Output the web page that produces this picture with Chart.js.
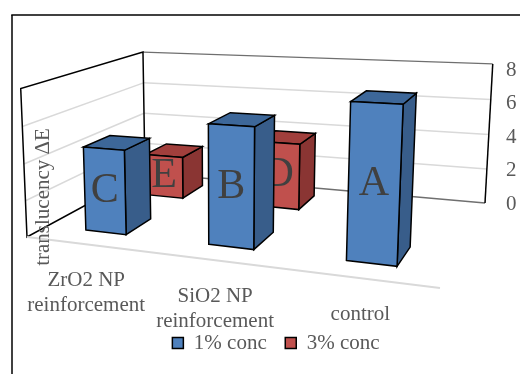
<!DOCTYPE html>
<html>
<head>
<meta charset="utf-8">
<script src="https://cdn.jsdelivr.net/npm/chart.js@4.4.1/dist/chart.umd.min.js"></script>
<style>
  body { margin: 0; background: #fff; }
  #wrap { width: 520px; height: 374px; }
</style>
</head>
<body>
<div id="wrap"><canvas id="translucencyChart" width="520" height="374"></canvas></div>
<script>
// data
const categories = [["ZrO2 NP", "reinforcement"], ["SiO2 NP", "reinforcement"], "control"];
const conc1 = [4.6, 6.3, 7.8];
const conc3 = [2.5, 3.8, null];
const letters1 = ["C", "B", "A"];
const letters3 = ["E", "D", ""];
const seriesNames = ["1% conc", "3% conc"];
const yTitle = "translucency \u0394E";

const SERIF = "'Liberation Serif', 'Times New Roman', serif";
const GRAY_TEXT = "#595959";

// 3d frame: floor corners (value 0) and three wall corners at the axis max
const FLOOR = { fl: [27, 237], fr: [440, 288], br: [485, 203], bl: [145, 173] };
const TOPS = [[0, 0, 19, 88], [0, 1, 145, 49], [1, 1, 492, 68]];
// depth range of each series row (0 = front edge, 1 = back wall)
const ROW_DEPTH = [[0.15, 0.36], [0.67, 0.88]];
const FACES = [
  { front: "#4F81BD", side: "#385D8A", top: "#3D6799" },
  { front: "#C0504D", side: "#8A3533", top: "#A13F3C" }
];

function squareToQuad(p0, p1, p2, p3) {
  const dx1 = p1[0] - p2[0], dx2 = p3[0] - p2[0], dx3 = p0[0] - p1[0] + p2[0] - p3[0];
  const dy1 = p1[1] - p2[1], dy2 = p3[1] - p2[1], dy3 = p0[1] - p1[1] + p2[1] - p3[1];
  const den = dx1 * dy2 - dx2 * dy1;
  const g = (dx3 * dy2 - dx2 * dy3) / den;
  const h = (dx1 * dy3 - dx3 * dy1) / den;
  return {
    a: p1[0] - p0[0] + g * p1[0], b: p3[0] - p0[0] + h * p3[0], c: p0[0],
    d: p1[1] - p0[1] + g * p1[1], e: p3[1] - p0[1] + h * p3[1], f: p0[1], g, h
  };
}

function det3(m) {
  return m[0][0] * (m[1][1] * m[2][2] - m[1][2] * m[2][1])
    - m[0][1] * (m[1][0] * m[2][2] - m[1][2] * m[2][0])
    + m[0][2] * (m[1][0] * m[2][1] - m[1][1] * m[2][0]);
}

const H = squareToQuad(FLOOR.fl, FLOOR.fr, FLOOR.br, FLOOR.bl);

// vertical column of the projection, least squares over the wall top corners
const vert = (() => {
  const rows = [], rhs = [];
  TOPS.forEach(([t, z, X, Y]) => {
    const nx = H.a * t + H.b * z + H.c, ny = H.d * t + H.e * z + H.f, w = H.g * t + H.h * z + 1;
    rows.push([1, 0, -X]); rhs.push(X * w - nx);
    rows.push([0, 1, -Y]); rhs.push(Y * w - ny);
  });
  const M = [0, 1, 2].map(i => [0, 1, 2].map(j => rows.reduce((s, r) => s + r[i] * r[j], 0)));
  const v = [0, 1, 2].map(i => rows.reduce((s, r, k) => s + r[i] * rhs[k], 0));
  const D = det3(M);
  const [p, q, r] = [0, 1, 2].map(k => det3(M.map((row, i) => row.map((x, j) => (j === k ? v[i] : x)))) / D);
  return { p, q, r };
})();

function project(t, z, h) {
  const nx = H.a * t + H.b * z + H.c + vert.p * h;
  const ny = H.d * t + H.e * z + H.f + vert.q * h;
  const w = H.g * t + H.h * z + 1 + vert.r * h;
  return [nx / w, ny / w];
}

function line(ctx, a, b, color, width) {
  ctx.beginPath();
  ctx.moveTo(a[0], a[1]);
  ctx.lineTo(b[0], b[1]);
  ctx.strokeStyle = color;
  ctx.lineWidth = width;
  ctx.stroke();
}

function quad(ctx, pts, fill) {
  ctx.beginPath();
  ctx.moveTo(pts[0][0], pts[0][1]);
  for (let i = 1; i < pts.length; i++) ctx.lineTo(pts[i][0], pts[i][1]);
  ctx.closePath();
  ctx.fillStyle = fill;
  ctx.fill();
  ctx.strokeStyle = "#000";
  ctx.lineWidth = 1.5;
  ctx.stroke();
}

const box3d = {
  id: "box3d",
  beforeDraw(chart) {
    const ctx = chart.ctx;
    const yScale = chart.scales.y;
    ctx.save();
    ctx.fillStyle = "#fff";
    ctx.fillRect(0, 0, chart.width, chart.height);
    // outer frame
    line(ctx, [12, 374], [12, 15], "#000", 1.5);
    line(ctx, [11.25, 15], [520, 15], "#000", 1.5);

    // gridlines on the walls, from the y scale ticks
    yScale.ticks.forEach(tk => {
      const h = tk.value / yScale.max;
      if (h <= 0 || h >= 1) return;
      line(ctx, project(0, 0, h), project(0, 1, h), "#D9D9D9", 1.5);
      line(ctx, project(0, 1, h), project(1, 1, h), "#D9D9D9", 1.5);
    });
    // wall outlines
    line(ctx, project(0, 1, 0), project(1, 1, 0), "#6F6F6F", 1.3);
    line(ctx, project(0, 1, 1), project(1, 1, 1), "#6F6F6F", 1.3);
    line(ctx, project(1, 1, 0), project(1, 1, 1), "#000", 1.5);
    ctx.beginPath();
    [[0, 0, 0], [0, 0, 1], [0, 1, 1], [0, 1, 0]].forEach((c, i) => {
      const p = project(c[0], c[1], c[2]);
      if (i === 0) ctx.moveTo(p[0], p[1]); else ctx.lineTo(p[0], p[1]);
    });
    ctx.closePath();
    ctx.strokeStyle = "#000";
    ctx.lineWidth = 1.5;
    ctx.stroke();
    // category axis line along the front of the floor
    line(ctx, project(0, 0, 0), project(1, 0, 0), "#D9D9D9", 2);
    ctx.restore();
  },
  beforeDatasetsDraw(chart) {
    const ctx = chart.ctx;
    const area = chart.chartArea;
    const yScale = chart.scales.y;
    const zero = yScale.getPixelForValue(0);
    const span = zero - yScale.getPixelForValue(yScale.max);
    const letters = [letters1, letters3];
    ctx.save();
    // back row first, then the front row
    for (let ds = chart.data.datasets.length - 1; ds >= 0; ds--) {
      const meta = chart.getDatasetMeta(ds);
      const [z0, z1] = ROW_DEPTH[ds];
      const col = FACES[ds];
      meta.data.forEach((el, i) => {
        if (chart.data.datasets[ds].data[i] == null) return;
        const t0 = (el.x - el.width / 2 - area.left) / area.width;
        const t1 = (el.x + el.width / 2 - area.left) / area.width;
        const h = (zero - el.y) / span;
        quad(ctx, [project(t1, z0, 0), project(t1, z1, 0), project(t1, z1, h), project(t1, z0, h)], col.side);
        quad(ctx, [project(t0, z0, h), project(t1, z0, h), project(t1, z1, h), project(t0, z1, h)], col.top);
        quad(ctx, [project(t0, z0, 0), project(t1, z0, 0), project(t1, z0, h), project(t0, z0, h)], col.front);
        const c = project((t0 + t1) / 2, z0, h / 2);
        ctx.fillStyle = "#404040";
        ctx.font = "42px " + SERIF;
        ctx.textAlign = "center";
        ctx.textBaseline = "middle";
        ctx.fillText(letters[ds][i], c[0], c[1]);
      });
    }
    ctx.restore();
    return false;
  },
  afterDraw(chart) {
    const ctx = chart.ctx;
    const xScale = chart.scales.x;
    const area = chart.chartArea;
    ctx.save();
    ctx.fillStyle = GRAY_TEXT;
    ctx.font = "21px " + SERIF;
    ctx.textAlign = "center";
    ctx.textBaseline = "alphabetic";
    chart.data.labels.forEach((lab, i) => {
      const t = (xScale.getPixelForValue(i) - area.left) / area.width;
      const p = project(t, 0, 0);
      const lines = Array.isArray(lab) ? lab : [lab];
      lines.forEach((s, k) => ctx.fillText(s, p[0], p[1] + 42 + k * 25));
    });
    // value axis title, on the side wall
    ctx.translate(43, 197);
    ctx.rotate(-Math.PI / 2);
    ctx.textBaseline = "middle";
    ctx.fillText(yTitle, 0, 0);
    ctx.restore();
  }
};

new Chart(document.getElementById("translucencyChart").getContext("2d"), {
  type: "bar",
  data: {
    labels: categories,
    datasets: [
      { label: seriesNames[0], data: conc1, backgroundColor: FACES[0].front, borderColor: "#000", borderWidth: 1.5 },
      { label: seriesNames[1], data: conc3, backgroundColor: FACES[1].front, borderColor: "#000", borderWidth: 1.5 }
    ]
  },
  options: {
    responsive: false,
    animation: false,
    devicePixelRatio: 1,
    layout: { padding: { top: 70, left: 32, right: 0, bottom: 10.5 } },
    datasets: { bar: { grouped: false, barPercentage: 0.34, categoryPercentage: 1 } },
    plugins: {
      legend: {
        position: "bottom",
        labels: {
          boxWidth: 11,
          boxHeight: 11,
          padding: 18.5,
          color: GRAY_TEXT,
          font: { family: SERIF, size: 21 }
        }
      },
      tooltip: { enabled: false }
    },
    scales: {
      x: {
        ticks: { display: false },
        grid: { display: false },
        border: { display: false },
        afterFit: s => { s.height = 110; }
      },
      y: {
        position: "right",
        min: 0,
        max: 8,
        ticks: { stepSize: 2, padding: 0, color: GRAY_TEXT, font: { family: SERIF, size: 21 } },
        grid: { display: false },
        border: { display: false },
        afterFit: s => { s.width = 22; }
      }
    }
  },
  plugins: [box3d]
});
</script>
</body>
</html>
